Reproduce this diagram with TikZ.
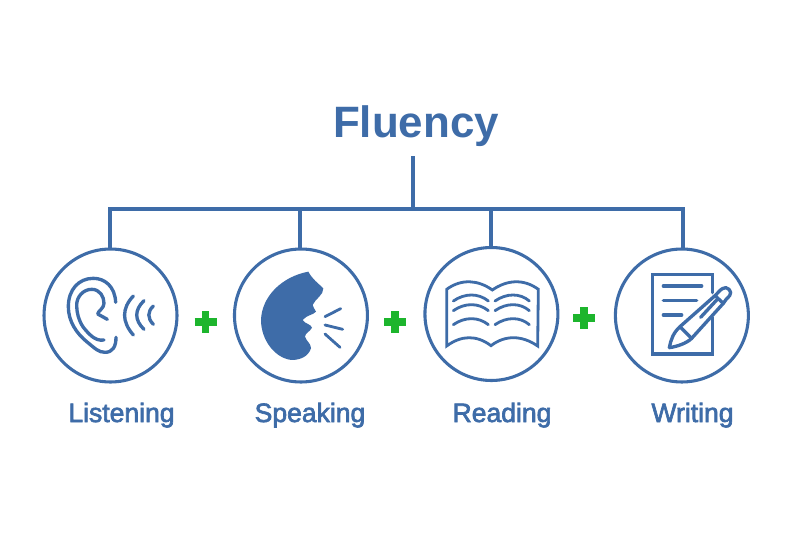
\documentclass[tikz,border=0pt]{standalone}
\usepackage{fontspec}
\setmainfont{Liberation Sans}
\newfontfamily\labelfont[FakeBold=2.5]{Liberation Sans}
\usetikzlibrary{positioning}
\definecolor{FluencyBlue}{HTML}{3E6CA8}
\definecolor{PlusGreen}{HTML}{1DB52D}
\tikzset{
  skill/.style={draw=FluencyBlue, line width=1.75pt, circle, inner sep=0pt, outer sep=0pt,
    minimum size=26.6mm, fill=white},
  heading/.style={text=FluencyBlue, font=\bfseries\fontsize{25}{30}\selectfont, inner sep=0pt},
  caption/.style={text=FluencyBlue, font=\labelfont\fontsize{15.1}{18}\selectfont, inner sep=0pt},
  wire/.style={draw=FluencyBlue, line width=1.9pt},
  plusbar/.style={draw=PlusGreen, line width=4pt},
  icon/.style={draw=FluencyBlue, line width=1.9pt, line cap=round, line join=round},
  thinicon/.style={icon, line width=1.6pt},
  zoomed/.style={x=0.02cm/3, y=-0.02cm/3}
}
\begin{document}
\begin{tikzpicture}[x=0.02cm, y=-0.02cm, node distance=11.5mm]
  \useasboundingbox (0,0) rectangle (800,533);
  \node[heading, anchor=base] (title) at (416,138) {Fluency};
  % circles
  \node[skill] (listening) at (110.5,315.5) {};
  \node[skill, right=of listening] (speaking) {};
  \node[skill, right=of speaking, yshift=0.3mm] (reading) {};
  \node[skill, right=of reading, yshift=-0.3mm] (writing) {};
  \node[caption, anchor=base] (listeningtext) at (121.5,422) {Listening};
  \node[caption, anchor=base] (speakingtext) at (310,422) {Speaking};
  \node[caption, anchor=base] (readingtext) at (502,422) {Reading};
  \node[caption, anchor=base] (writingtext) at (692.5,422) {Writing};
  % tree
  \coordinate (hub) at (413,209);
  \coordinate (hubleft) at (110,209);
  \coordinate (hubright) at (683,209);
  \coordinate (hubspeak) at (300,209);
  \coordinate (hubread) at (491,209);
  \draw[wire] (hub |- title.south) ++(0,9) -- (hub);
  \draw[wire] (hubleft |- listening.north) -- (hubleft) -- (hubright) -- (hubright |- writing.north);
  \draw[wire] (hubspeak) -- (hubspeak |- speaking.north);
  \draw[wire] (hubread) -- (hubread |- reading.north);
  % plus signs
  \foreach \px/\py in {205.7/322, 395/322, 584/318} {
    \draw[plusbar] (\px-11,\py) -- (\px+11,\py);
    \draw[plusbar] (\px,\py-11) -- (\px,\py+11);
  }
  % ear
  \begin{scope}[shift={(30,240)}, zoomed]
    \draw[icon] (257,187) .. controls (255,140) and (225,115) .. (190,115)
      .. controls (145,115) and (115,150) .. (115,200)
      .. controls (115,245) and (140,280) .. (170,305)
      .. controls (195,325) and (205,337) .. (225,337)
      .. controls (248,337) and (258,320) .. (258,292);
    \draw[icon] (222,300) .. controls (195,305) and (175,280) .. (160,262)
      .. controls (145,240) and (140,215) .. (140,195)
      .. controls (140,170) and (160,148) .. (185,148)
      .. controls (210,148) and (222,170) .. (222,190)
      .. controls (222,205) and (205,212) .. (203,222) -- (232,238);
    \draw[icon] (310,168) .. controls (275,205) and (275,245) .. (310,285);
    \draw[icon] (342,182) .. controls (313,210) and (313,240) .. (342,268);
    \draw[icon] (370,198) .. controls (352,215) and (352,235) .. (370,253);
  \end{scope}
  % head
  \begin{scope}[shift={(225,240)}, zoomed]
    \fill[FluencyBlue] (250,95) .. controls (262,118) and (280,130) .. (295,145)
      .. controls (296,165) and (272,175) .. (263,195) .. controls (262,205) and (272,205) .. (273,215)
      .. controls (265,225) and (245,225) .. (233,240) .. controls (240,252) and (258,252) .. (261,263)
      .. controls (255,275) and (240,280) .. (240,290) .. controls (245,305) and (258,310) .. (258,325)
      .. controls (250,350) and (225,360) .. (200,360) .. controls (150,355) and (108,300) .. (108,240)
      .. controls (110,170) and (170,110) .. (250,95) -- cycle;
    \draw[thinicon] (300,230) -- (347,206);
    \draw[thinicon] (300,255) -- (353,268);
    \draw[thinicon] (300,282) -- (345,322);
  \end{scope}
  % book
  \begin{scope}[shift={(415,240)}, zoomed]
    \draw[thinicon, line join=miter] (95,148) .. controls (140,115) and (190,120) .. (232,150)
      .. controls (275,120) and (325,115) .. (370,148) -- (368,318)
      .. controls (320,285) and (270,285) .. (228,317)
      .. controls (185,285) and (140,285) .. (95,318) -- cycle;
    \foreach \ly in {183,212,254} {
      \draw[thinicon] (115,\ly) .. controls (150,\ly-24) and (190,\ly-24) .. (220,\ly);
      \draw[thinicon] (240,\ly) .. controls (275,\ly-24) and (315,\ly-24) .. (343,\ly);
    }
  \end{scope}
  % page and pen
  \begin{scope}[shift={(605,240)}, zoomed]
    \draw[icon, line join=miter] (323,158) -- (323,104) -- (142,104) -- (142,342) -- (323,342) -- (323,232);
    \draw[icon] (175,138) -- (290,138);
    \draw[icon] (175,181) -- (275,181);
    \draw[icon] (175,225) -- (230,225);
    \draw[icon] (193,323) .. controls (197,300) and (205,278) .. (225,260) -- (330,167)
      .. controls (338,160) and (345,150) .. (352,146) .. controls (365,135) and (385,155) .. (374,167)
      .. controls (367,175) and (360,180) .. (355,190) -- (260,295) .. controls (245,310) and (215,320) .. (193,323);
    \draw[icon] (225,260) -- (260,295);
    \draw[icon] (287,232) -- (335,180);
    \draw[icon] (330,167) -- (355,190);
  \end{scope}
\end{tikzpicture}
\end{document}
